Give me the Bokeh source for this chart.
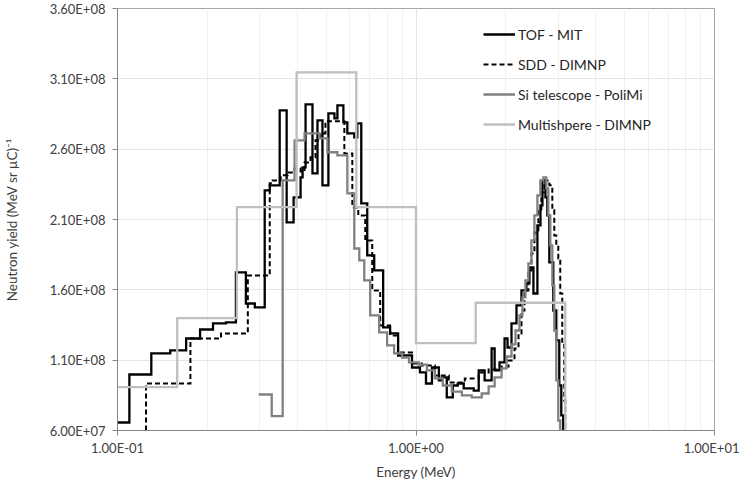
import numpy as np
from bokeh.plotting import figure
from bokeh.models import Range1d, FixedTicker, Legend, LegendItem
from bokeh.embed import file_html
from bokeh.resources import INLINE

# ---------------- data: bin edges (MeV) and yields (MeV sr uC)^-1 ----------------
tof_edges = [0.100, 0.1096, 0.1298, 0.1502, 0.1698, 0.1891, 0.2089, 0.2309, 0.2493, 0.2692,
             0.2884, 0.3113, 0.3236, 0.3494, 0.3687, 0.3890, 0.4105, 0.4169, 0.4266, 0.4500,
             0.4677, 0.4860, 0.5088, 0.5330, 0.5454, 0.5711, 0.5888, 0.6212, 0.6357, 0.6556,
             0.6865, 0.7244, 0.7762, 0.8190, 0.8710, 0.9698, 1.031, 1.080, 1.131, 1.193,
             1.221, 1.268, 1.328, 1.380, 1.445, 1.561, 1.622, 1.698, 1.792, 1.834,
             1.905, 1.980, 2.026, 2.089, 2.171, 2.256, 2.344, 2.399, 2.474, 2.551,
             2.612, 2.652, 2.714, 2.754, 2.797, 2.884, 2.951, 3.020, 3.067, 3.114]
tof_yield = [6.57e7, 9.98e7, 1.148e8, 1.169e8, 1.254e8, 1.318e8, 1.361e8, 1.368e8, 1.724e8, 1.503e8,
             1.475e8, 2.307e8, 2.343e8, 2.876e8, 2.079e8, 2.257e8, 2.399e8, 2.471e8, 2.919e8, 2.428e8,
             2.805e8, 2.343e8, 2.855e8, 2.819e8, 2.912e8, 2.791e8, 2.712e8, 2.684e8, 2.783e8, 2.215e8,
             1.845e8, 1.738e8, 1.333e8, 1.290e8, 1.133e8, 1.048e8, 1.013e8, 9.34e7, 1.048e8, 9.56e7,
             9.77e7, 8.35e7, 9.20e7, 9.34e7, 8.99e7, 8.84e7, 1.027e8, 9.56e7, 1.183e8, 1.027e8,
             1.084e8, 1.254e8, 1.190e8, 1.361e8, 1.489e8, 1.596e8, 1.646e8, 1.759e8, 1.574e8, 2.058e8,
             2.200e8, 2.378e8, 2.257e8, 2.129e8, 1.795e8, 1.453e8, 1.240e8, 9.20e7, 7.07e7]

sdd_edges = [0.1246, 0.1755, 0.2222, 0.2733, 0.3236, 0.3311, 0.3521, 0.3715, 0.3920, 0.4105,
             0.4233, 0.4432, 0.4606, 0.4786, 0.4973, 0.5754, 0.6119, 0.6407, 0.6761, 0.7135,
             0.7586, 0.8190, 0.8710, 0.9698, 1.047, 1.157, 1.288, 1.457, 1.622, 1.751,
             1.935, 2.042, 2.138, 2.205, 2.256, 2.309, 2.380, 2.436, 2.493, 2.570,
             2.630, 2.692, 2.797, 2.862, 2.906, 2.951, 2.997, 3.043, 3.090, 3.138, 3.162]
sdd_yield = [9.34e7, 1.254e8, 1.290e8, 1.702e8, 2.357e8, 2.378e8, 2.414e8, 2.435e8, 2.463e8, 2.442e8,
             2.506e8, 2.542e8, 2.663e8, 2.712e8, 2.798e8, 2.570e8, 2.186e8, 2.129e8, 1.951e8, 1.596e8,
             1.347e8, 1.276e8, 1.155e8, 1.077e8, 1.062e8, 9.91e7, 9.41e7, 9.70e7, 1.013e8, 1.034e8,
             1.055e8, 1.098e8, 1.183e8, 1.290e8, 1.453e8, 1.596e8, 1.738e8, 1.859e8, 2.008e8, 2.165e8,
             2.293e8, 2.378e8, 2.343e8, 2.165e8, 1.987e8, 1.916e8, 1.823e8, 1.574e8, 1.219e8, 8.13e7]

si_edges = [0.2974, 0.3286, 0.3575, 0.3920, 0.4233, 0.4750, 0.5050, 0.5454, 0.5888, 0.6212,
            0.6457, 0.6709, 0.7024, 0.7527, 0.8003, 0.8446, 0.8981, 0.9477, 1.023, 1.088,
            1.157, 1.230, 1.318, 1.424, 1.537, 1.660, 1.751, 1.834, 1.935, 2.011,
            2.089, 2.154, 2.222, 2.273, 2.326, 2.380, 2.436, 2.493, 2.551, 2.610,
            2.671, 2.733, 2.775, 2.818, 2.862, 2.906, 2.951, 2.997, 3.043]
si_yield = [8.56e7, 7.02e7, 2.378e8, 2.663e8, 2.712e8, 2.677e8, 2.578e8, 2.556e8, 2.286e8, 1.894e8,
            1.809e8, 1.667e8, 1.418e8, 1.297e8, 1.205e8, 1.148e8, 1.119e8, 1.084e8, 1.069e8, 1.027e8,
            9.70e7, 9.20e7, 8.77e7, 8.49e7, 8.35e7, 8.63e7, 9.13e7, 9.77e7, 1.041e8, 1.126e8,
            1.212e8, 1.311e8, 1.418e8, 1.546e8, 1.667e8, 1.788e8, 1.951e8, 2.129e8, 2.271e8, 2.378e8,
            2.399e8, 2.321e8, 2.129e8, 1.916e8, 1.631e8, 1.311e8, 9.56e7, 6.71e7]

ms_edges = [0.100, 0.1585, 0.2512, 0.3981, 0.6310, 1.000, 1.585, 3.162]
ms_yield = [9.08e7, 1.399e8, 2.188e8, 3.146e8, 2.188e8, 1.221e8, 1.508e8]

series_names = ["TOF - MIT", "SDD - DIMNP", "Si telescope - PoliMi", "Multishpere - DIMNP"]

# ---------------- axes ----------------
x_min, x_max = 0.1, 10.0
y_min, y_max = 6e7, 3.6e8
x_ticks = [0.1, 1.0, 10.0]
x_tick_labels = ["1.00E-01", "1.00E+00", "1.00E+01"]
x_minor_ticks = [m * d for d in (0.1, 1.0) for m in range(2, 10)]
y_ticks = [6e7, 1.1e8, 1.6e8, 2.1e8, 2.6e8, 3.1e8, 3.6e8]
y_tick_labels = ["6.00E+07", "1.10E+08", "1.60E+08", "2.10E+08", "2.60E+08", "3.10E+08", "3.60E+08"]
x_title = "Energy (MeV)"
y_title = "Neutron yield (MeV sr \u00b5C)\u207b\u00b9"


def step_path(edges, values, drop_start, drop_end, floor):
    """Histogram outline: horizontal run per bin, verticals between bins."""
    e = np.asarray(edges, dtype=float)
    v = np.asarray(values, dtype=float)
    xs = np.repeat(e, 2)[1:-1]
    ys = np.repeat(v, 2)
    if drop_start:
        xs = np.r_[e[0], xs]
        ys = np.r_[floor, ys]
    if drop_end:
        xs = np.r_[xs, e[-1]]
        ys = np.r_[ys, floor]
    return xs, ys


FONT = "Lato"
TXT = "#404040"

p = figure(width=739, height=484, x_axis_type="log",
           x_range=Range1d(x_min, x_max), y_range=Range1d(y_min, y_max),
           output_backend="svg", toolbar_location=None,
           min_border_left=114, min_border_right=25, min_border_top=8, min_border_bottom=54)
p.background_fill_color = "white"
p.border_fill_color = "white"
p.outline_line_color = "#a6a6a6"
p.outline_line_width = 1

# grids
p.xaxis.ticker = FixedTicker(ticks=x_ticks, minor_ticks=x_minor_ticks)
p.yaxis.ticker = FixedTicker(ticks=y_ticks, minor_ticks=[])
p.xgrid.grid_line_color = "#e6e6e0"
p.xgrid.minor_grid_line_color = "#f1f1ee"
p.ygrid.grid_line_color = "#e6e6e0"

for ax in (p.xaxis[0], p.yaxis[0]):
    ax.axis_line_color = "#868686"
    ax.major_tick_line_color = "#868686"
    ax.major_tick_in = 0
    ax.major_tick_out = 5
    ax.minor_tick_line_color = None
    ax.major_label_text_font = FONT
    ax.major_label_text_font_size = "13px"
    ax.major_label_text_color = TXT
    ax.axis_label_text_font = FONT
    ax.axis_label_text_font_size = "13.5px"
    ax.axis_label_text_font_style = "normal"
    ax.axis_label_text_color = TXT

p.xaxis.major_label_overrides = dict(zip(x_ticks, x_tick_labels))
p.yaxis.major_label_overrides = dict(zip(y_ticks, y_tick_labels))
p.xaxis.major_label_standoff = 4
p.yaxis.major_label_standoff = 7
p.xaxis.axis_label = x_title
p.xaxis.axis_label_standoff = 5
p.yaxis.axis_label = y_title
p.yaxis.axis_label_standoff = 27

# series
x, y = step_path(tof_edges, tof_yield, False, True, y_min)
r_tof = p.line(x, y, line_color="black", line_width=2.3, line_join="miter")
x, y = step_path(sdd_edges, sdd_yield, True, True, y_min)
r_sdd = p.line(x, y, line_color="black", line_width=2.0, line_dash="5 3", line_join="miter")
x, y = step_path(si_edges, si_yield, False, True, y_min)
r_si = p.line(x, y, line_color="#808080", line_width=2.3, line_join="miter")
x, y = step_path(ms_edges, ms_yield, False, True, y_min)
r_ms = p.line(x, y, line_color="#bfbfbf", line_width=2.3, line_join="miter")

legend = Legend(
    items=[LegendItem(label=n, renderers=[r]) for n, r in zip(series_names, [r_tof, r_sdd, r_si, r_ms])],
    location=(366, 296), orientation="vertical",
    glyph_width=32, glyph_height=20, label_height=20, spacing=10,
    padding=0, margin=0, label_standoff=3,
    border_line_color=None, background_fill_alpha=0,
    label_text_font=FONT, label_text_font_size="14px", label_text_color="#262626",
)
p.add_layout(legend)

open("out.html", "w").write(file_html(p, INLINE))
